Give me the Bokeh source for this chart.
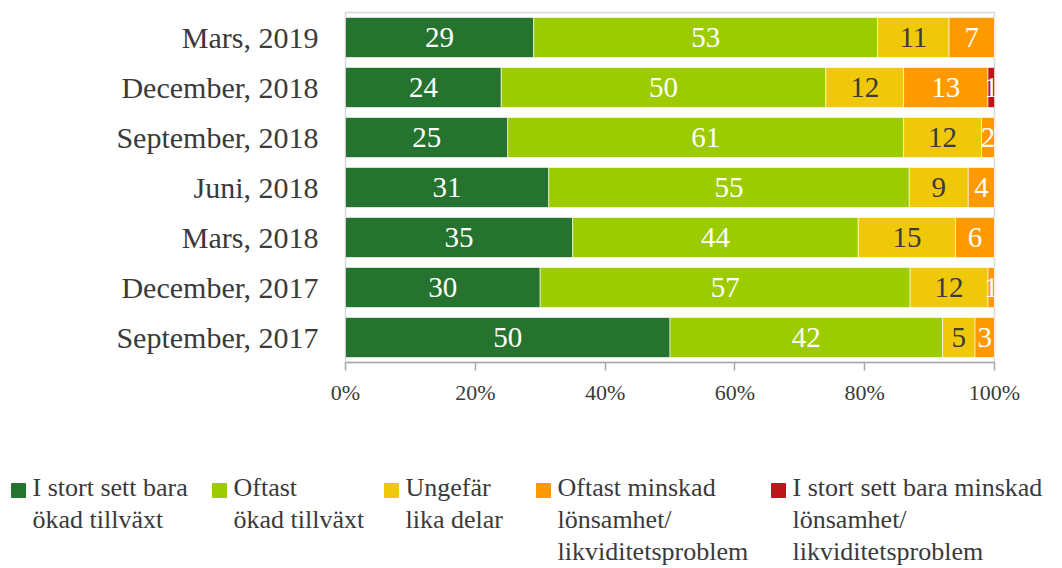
from bokeh.plotting import figure
from bokeh.models import ColumnDataSource, FactorRange, Range1d, FixedTicker, PrintfTickFormatter
from bokeh.layouts import column
from bokeh.core.properties import value
from bokeh.embed import file_html
from bokeh.resources import INLINE

# ---------------- data ----------------
categories = ["Mars, 2019", "December, 2018", "September, 2018", "Juni, 2018",
              "Mars, 2018", "December, 2017", "September, 2017"]
stort_okad = [29, 24, 25, 31, 35, 30, 50]
oftast_okad = [53, 50, 61, 55, 44, 57, 42]
ungefar = [11, 12, 12, 9, 15, 12, 5]
oftast_minskad = [7, 13, 2, 4, 6, 1, 3]
stort_minskad = [0, 1, 0, 0, 0, 0, 0]
series_names = ["I stort sett bara\nökad tillväxt",
                "Oftast\nökad tillväxt",
                "Ungefär\nlika delar",
                "Oftast minskad\nlönsamhet/\nlikviditetsproblem",
                "I stort sett bara minskad\nlönsamhet/\nlikviditetsproblem"]
x_ticks = [0, 20, 40, 60, 80, 100]

# ---------------- styles ----------------
colors = ["#26732F", "#9CCB00", "#F0C80A", "#FF9900", "#C0141A"]
label_colors = ["white", "white", "#3A3A3A", "white", "white"]
FONT = "Liberation Serif"
TXT = "#3A3A3A"
W = 1056

series = [stort_okad, oftast_okad, ungefar, oftast_minskad, stort_minskad]
keys = ["s0", "s1", "s2", "s3", "s4"]
totals = [sum(vals) for vals in zip(*series)]

data = {"cat": categories}
for k, vals in zip(keys, series):
    data[k] = [v / t * 100 for v, t in zip(vals, totals)]
source = ColumnDataSource(data)

p = figure(width=W, height=420,
           y_range=FactorRange(factors=categories[::-1]),
           x_range=Range1d(0, 100),
           output_backend="svg", toolbar_location=None,
           min_border_left=345, min_border_right=W - 994,
           min_border_top=12, min_border_bottom=58)

p.hbar_stack(keys, y="cat", height=0.8, color=colors, source=source,
             line_color="white", line_width=0.6)

# data labels
lx, ly, lt, lc = [], [], [], []
for i, cat in enumerate(categories):
    start = 0.0
    for j, k in enumerate(keys):
        w = data[k][i]
        if series[j][i] > 0:
            lx.append(start + w / 2)
            ly.append(cat)
            lt.append(str(series[j][i]))
            lc.append(label_colors[j])
        start += w
lsrc = ColumnDataSource(dict(x=lx, y=ly, t=lt, c=lc))
p.text(x="x", y="y", text="t", text_color="c", source=lsrc,
       text_align="center", text_baseline="middle",
       text_font=value(FONT), text_font_size="29px")

# axes
p.xgrid.visible = False
p.ygrid.visible = False
p.outline_line_color = "#D9D9D9"
p.outline_line_width = 1.5

p.xaxis.ticker = FixedTicker(ticks=x_ticks)
p.xaxis.formatter = PrintfTickFormatter(format="%d%%")
p.xaxis.axis_line_color = "#A6A6A6"
p.xaxis.axis_line_width = 1.5
p.xaxis.major_tick_line_color = "#A6A6A6"
p.xaxis.major_tick_line_width = 1.5
p.xaxis.major_tick_out = 8
p.xaxis.major_tick_in = 0
p.xaxis.minor_tick_line_color = None
p.xaxis.major_label_text_font = FONT
p.xaxis.major_label_text_font_size = "22px"
p.xaxis.major_label_text_color = TXT
p.xaxis.major_label_standoff = 9

p.yaxis.axis_line_color = None
p.yaxis.major_tick_line_color = None
p.yaxis.minor_tick_line_color = None
p.yaxis.major_label_text_font = FONT
p.yaxis.major_label_text_font_size = "30px"
p.yaxis.major_label_text_color = TXT
p.yaxis.major_label_standoff = 21

# ---------------- legend (separate strip) ----------------
LH = 148
leg = figure(width=W, height=LH, x_range=Range1d(0, W), y_range=Range1d(LH, 0),
             output_backend="svg", toolbar_location=None,
             x_axis_location=None, y_axis_location=None,
             min_border=0, min_border_left=0, min_border_right=0,
             min_border_top=0, min_border_bottom=0)
leg.outline_line_color = None
leg.xgrid.visible = False
leg.ygrid.visible = False
for fig in (p, leg):
    try:
        fig.frame_align = False
    except Exception:
        pass

item_x = [11, 212, 384, 536, 771]
sq_src = ColumnDataSource(dict(x=[x + 7 for x in item_x], y=[70] * 5, c=colors))
leg.rect(x="x", y="y", width=14, height=14, color="c", source=sq_src)
tx_src = ColumnDataSource(dict(x=[x + 21 for x in item_x], y=[52] * 5, t=series_names))
leg.text(x="x", y="y", text="t", source=tx_src, text_color=TXT,
         text_align="left", text_baseline="top",
         text_font=value(FONT), text_font_size="26px", text_line_height=1.12)

layout = column(p, leg, spacing=0)
open("out.html", "w").write(file_html(layout, INLINE))
